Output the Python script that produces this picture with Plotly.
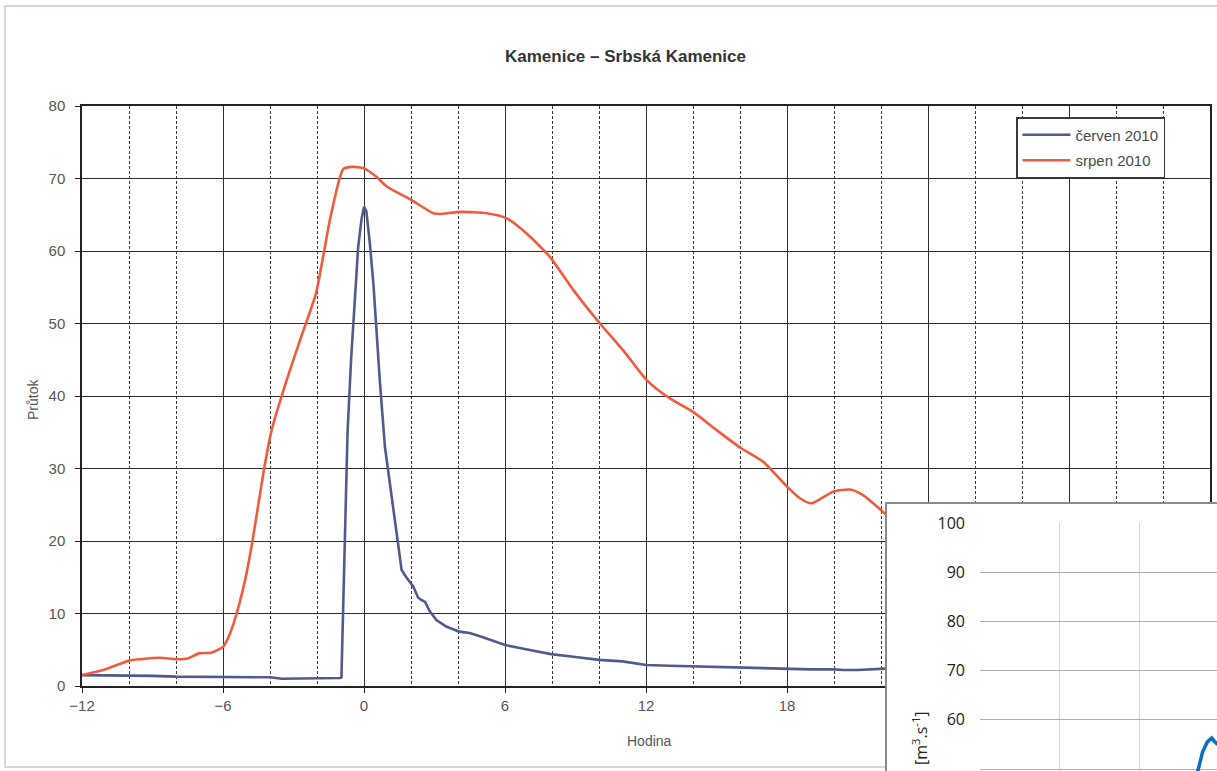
import plotly.graph_objects as go

W, H = 1217, 771

# ---------------- data (main chart) ----------------
cerven_hours = [-12, -11, -10, -9, -8, -7, -6, -5, -4, -3.5, -3, -2, -1.5, -1.0, -0.96,
                -0.9, -0.8, -0.7, -0.55, -0.45, -0.25, -0.1, 0, 0.1, 0.25, 0.4, 0.55, 0.68,
                0.89, 1.1, 1.3, 1.5, 1.6, 1.8, 2.1, 2.3, 2.42, 2.6, 2.8, 3.08, 3.5, 4.05, 4.5,
                5, 5.5, 6, 7, 7.96, 9, 10, 11, 12, 13, 14, 15, 16, 17, 18, 19, 20, 20.4, 21, 22.2]
cerven_flow = [1.5, 1.5, 1.4, 1.4, 1.3, 1.3, 1.2, 1.2, 1.2, 1.0, 1.0, 1.0, 1.0, 1.1, 1.2,
               10, 25, 35, 45, 50.5, 60.5, 64.5, 66.1, 65.5, 61, 55.5, 48, 41.8,
               33.0, 28, 23, 19, 16, 15, 13.7, 12.2, 11.9, 11.6, 10.3, 9.1, 8.2, 7.5, 7.3,
               6.8, 6.2, 5.65, 5.0, 4.4, 4.0, 3.6, 3.4, 2.9, 2.8, 2.7, 2.7, 2.6, 2.5, 2.4, 2.3, 2.3, 2.2, 2.2, 2.4]

srpen_hours = [-12, -11, -10, -9.5, -8.7, -8, -7.5, -7.02, -6.5, -6, -5.8, -5.55, -5.06, -4.74,
               -4.26, -3.93, -3.29, -2.72, -2.04, -1.74, -1.45, -1.02, -0.88, -0.5, 0, 0.54,
               0.97, 2.03, 2.95, 3.23, 4.09, 5.22, 6.07, 6.92, 7.91, 8.91, 10.04, 11.03, 12.03,
               13, 14, 15, 16, 17, 18, 18.55, 19.04, 19.96, 20.68, 21.25, 22.24, 22.6]
srpen_flow = [1.5, 2.3, 3.5, 3.7, 3.9, 3.7, 3.8, 4.5, 4.6, 5.4, 6.5, 8.6, 14.6, 20.1,
              29.8, 35.3, 42.2, 47.7, 54.2, 59.2, 64.3, 70.2, 71.3, 71.6, 71.4, 70.2,
              68.9, 67.0, 65.2, 65.1, 65.4, 65.2, 64.5, 62.4, 59.2, 54.6, 50.0, 46.3, 42.2,
              39.7, 37.8, 35.3, 32.9, 30.9, 27.5, 25.9, 25.2, 26.8, 27.1, 26.3, 23.6, 22.8]

x_ticks = [-12, -6, 0, 6, 12, 18, 24, 30, 36]
y_ticks = [0, 10, 20, 30, 40, 50, 60, 70, 80]

# ---------------- data (overlapping inset chart) ----------------
inset_x = [2.70, 2.746, 2.80, 2.86, 2.915, 2.95, 2.99]
inset_flow = [47.0, 50.0, 53.5, 55.5, 56.3, 55.6, 55.0]
inset_y_ticks = [50, 60, 70, 80, 90, 100]

TITLE = "Kamenice – Srbská Kamenice"
LEG1, LEG2 = "červen 2010", "srpen 2010"


def fx(p):
    return min(1.0, max(0.0, p / W))


def fy(p):
    return min(1.0, max(0.0, 1 - p / H))


FONT = "Liberation Sans, Arial, sans-serif"

fig = go.Figure()
fig.add_trace(go.Scatter(x=cerven_hours, y=cerven_flow, name=LEG1, mode="lines", legendgroup="a",
                         line=dict(color="#4f5b8c", width=2.6), xaxis="x", yaxis="y"))
fig.add_trace(go.Scatter(x=srpen_hours, y=srpen_flow, name=LEG2, mode="lines", legendgroup="b",
                         line=dict(color="#f05a3e", width=2.6, shape="spline", smoothing=0.6),
                         xaxis="x", yaxis="y"))
# white frame of the overlapping inset (its own subplot)
fig.add_trace(go.Scatter(x=[], y=[], xaxis="x2", yaxis="y2", showlegend=False, hoverinfo="skip"))
# inset chart
fig.add_trace(go.Scatter(x=inset_x, y=inset_flow, mode="lines", showlegend=False,
                         line=dict(color="#0a6fc2", width=3.5), xaxis="x3", yaxis="y3"))

fig.update_layout(
    autosize=True,
    margin=dict(l=0, r=0, t=0, b=0, pad=0, autoexpand=False),
    paper_bgcolor="white", plot_bgcolor="white",
    font=dict(family=FONT, color="#555"),
    showlegend=True,
    legend=dict(x=fx(1016), y=fy(117), xanchor="left", yanchor="top",
                bgcolor="white", bordercolor="#3a3a3a", borderwidth=1.5,
                font=dict(size=15, color="#4a4a4a", family=FONT),
                tracegroupgap=3, itemwidth=48),
    xaxis=dict(domain=[fx(82), fx(1210)], range=[-12, 36], tickvals=x_ticks,
               showgrid=True, gridcolor="#2e2e2e", gridwidth=1.3,
               minor=dict(dtick=2, tick0=0, showgrid=True, gridcolor="#3a3a3a",
                          griddash="3px,2px", gridwidth=1.1),
               showline=True, mirror=True, linecolor="#222", linewidth=1.5,
               ticks="outside", ticklen=5, tickcolor="#222", automargin=False,
               tickfont=dict(size=15, color="#555"), zeroline=False, anchor="y"),
    yaxis=dict(domain=[fy(686), fy(106)], range=[0, 80], tickvals=y_ticks,
               showgrid=True, gridcolor="#2e2e2e", gridwidth=1.3,
               showline=True, mirror=True, linecolor="#222", linewidth=1.5,
               ticks="outside", ticklen=5, tickcolor="#222", ticklabelstandoff=7,
               automargin=False,
               tickfont=dict(size=15, color="#555"), zeroline=False, anchor="x"),
    xaxis2=dict(domain=[fx(887), 1.0], range=[0, 1], side="top", showline=True,
                linecolor="#8a8a8a", linewidth=2, showgrid=False, showticklabels=False,
                ticks="", zeroline=False, anchor="y2", automargin=False),
    yaxis2=dict(domain=[0, fy(504)], range=[0, 1], showline=True,
                linecolor="#8a8a8a", linewidth=2, showgrid=False, showticklabels=False,
                ticks="", zeroline=False, anchor="x2", automargin=False),
    xaxis3=dict(domain=[fx(980), 1.0], range=[0, (W - 980) / 79.5], dtick=1, tick0=0,
                showgrid=True, gridcolor="#d6d6d6", gridwidth=1.3, showticklabels=False,
                ticks="", zeroline=False, showline=False, anchor="y3", automargin=False),
    yaxis3=dict(domain=[0, fy(523)], range=[100 - (H - 523) / 4.92, 100], tickvals=inset_y_ticks,
                showgrid=True, gridcolor="#b0b0b0", gridwidth=1.3, ticks="",
                ticklabelstandoff=14, showline=False, zeroline=False, automargin=False,
                tickfont=dict(size=16, color="#222", family="Open Sans, Lato, sans-serif"),
                anchor="x3"),
    annotations=[
        dict(text="<b>" + TITLE + "</b>", x=fx(625), y=fy(57), xref="paper", yref="paper",
             xanchor="center", yanchor="middle",
             showarrow=False, font=dict(size=17, color="#333", family=FONT)),
        dict(text="Průtok", x=fx(33), y=fy(400), xref="paper", yref="paper",
             xanchor="center", yanchor="middle",
             showarrow=False, textangle=-90, font=dict(size=14, color="#555", family=FONT)),
        dict(text="Hodina", x=fx(649), y=fy(741), xref="paper", yref="paper",
             xanchor="center", yanchor="middle",
             showarrow=False, font=dict(size=14, color="#555", family=FONT)),
        dict(text="[m<sup>3</sup>.s<sup>-1</sup>]", x=fx(920), y=fy(738), xref="paper",
             yref="paper", showarrow=False, textangle=-90, xanchor="center", yanchor="middle",
             font=dict(size=16, color="#222", family="Open Sans, Lato, sans-serif")),
    ],
    shapes=[
        dict(type="rect", xref="paper", yref="paper", layer="below",
             x0=fx(5), x1=1.02, y0=fy(767), y1=fy(6),
             line=dict(color="#c4ccd0", width=1.5), fillcolor="white"),
    ],
)

fig.write_html("out.html", config={"displayModeBar": False},
               default_width="1217px", default_height="771px;position:absolute;left:0;top:0")
